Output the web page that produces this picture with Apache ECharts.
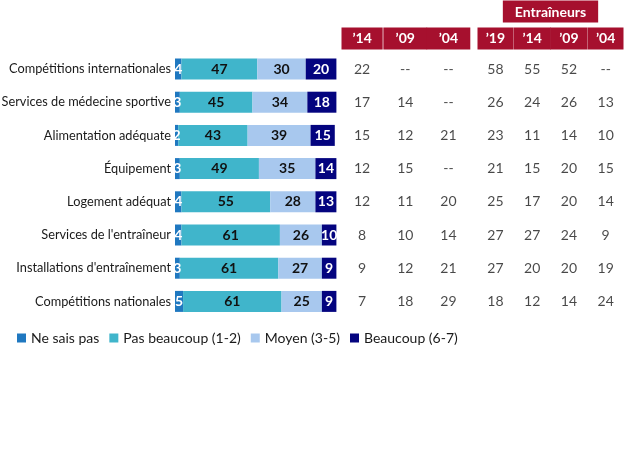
<!DOCTYPE html>
<html><head><meta charset="utf-8">
<script src="https://cdn.jsdelivr.net/npm/echarts@6/dist/echarts.min.js"></script>
<style>html,body{margin:0;padding:0;background:#fff}#c{width:624px;height:468px}</style>
</head><body><div id="c"></div>
<script>
const categories = ["Compétitions internationales","Services de médecine sportive","Alimentation adéquate","Équipement","Logement adéquat","Services de l'entraîneur","Installations d'entraînement","Compétitions nationales"];
const neSaisPas = [4,3,2,3,4,4,3,5];
const pasBeaucoup = [47,45,43,49,55,61,61,61];
const moyen = [30,34,39,35,28,26,27,25];
const beaucoup = [20,18,15,14,13,10,9,9];
const seriesNames = ["Ne sais pas","Pas beaucoup (1-2)","Moyen (3-5)","Beaucoup (6-7)"];
const athleteCols = ["’14","’09","’04"];
const athlete14 = [22,17,15,12,12,8,9,7];
const athlete09 = [null,14,12,15,11,10,12,18];
const athlete04 = [null,null,21,null,20,14,21,29];
const coachCols = ["’19","’14","’09","’04"];
const coach19 = [58,26,23,21,25,27,27,18];
const coach14 = [55,24,11,15,17,27,20,12];
const coach09 = [52,26,14,20,20,24,20,14];
const coach04 = [null,13,10,15,14,9,19,24];
const coachTitle = "Entraîneurs";

const colors = ['#1f78c0','#40b5cb','#a8c8ee','#04047f'];
const labelColors = ['#ffffff','#111111','#111111','#ffffff'];
const red = '#a6102e';
const font = 'Lato, "Open Sans", sans-serif';
const rowTop = 52.4, rowBottom = 468-318;

const chart = echarts.init(document.getElementById('c'));
const barVals = [neSaisPas,pasBeaucoup,moyen,beaucoup];
const series = barVals.map((arr,k)=>({
  name: seriesNames[k], type:'bar', stack:'s', xAxisIndex:0, yAxisIndex:0,
  barWidth:21, data:arr, itemStyle:{color:colors[k]},
  label:{show:true, position:'inside', color:labelColors[k], fontFamily:font, fontWeight:'bold', fontSize:14, formatter:'{c}'}
}));
function tableSeries(cols, arrs, gi){
  return arrs.map((arr,j)=>({
    type:'scatter', xAxisIndex:gi, yAxisIndex:gi, symbolSize:1, itemStyle:{color:'rgba(0,0,0,0)'},
    silent:true,
    data: arr.map((v,i)=>({value:[cols[j], categories[i]], raw:v})),
    label:{show:true, position:'inside', color:'#1a1a1a', fontFamily:font, fontSize:14,
      formatter:p=> p.data.raw==null ? '--' : String(p.data.raw)}
  }));
}
// header boxes: narrow = separated box, full = touching neighbour box
const headerLabel = (colW, kinds) => {
  const st = w => ({color:'#fff', fontFamily:font, fontWeight:'bold', fontSize:14,
    backgroundColor:red, width:w, height:22, lineHeight:22, align:'center'});
  return {interval:0, margin:3, align:'center',
    formatter:(v,i)=>'{'+kinds[i]+'|'+v+'}',
    rich:{n:st(colW-2), f:st(colW+0.6), l:st(colW-1), r:st(colW-1)}};
};
const gA = {left:340.5, width:129.5}, gB = {left:477, width:147};
const gridBase = {top:rowTop, bottom:rowBottom, outerBoundsMode:'none', containLabel:false};
const option = {
  animation:false,
  grid:[
    Object.assign({left:175, width:161.4}, gridBase),
    Object.assign({left:gA.left, width:gA.width}, gridBase),
    Object.assign({left:gB.left, width:gB.width}, gridBase)
  ],
  xAxis:[
    {gridIndex:0, type:'value', min:0, max:100, show:false},
    {gridIndex:1, type:'category', data:athleteCols, position:'top',
      axisLine:{show:false}, axisTick:{show:false}, splitLine:{show:false},
      axisLabel:headerLabel(gA.width/3, ['n','f','f'])},
    {gridIndex:2, type:'category', data:coachCols, position:'top',
      axisLine:{show:false}, axisTick:{show:false}, splitLine:{show:false},
      axisLabel:headerLabel(gB.width/4, ['l','f','f','r']),
      name:coachTitle, nameLocation:'middle', nameGap:28.5,
      nameTextStyle:{color:'#fff', fontFamily:font, fontWeight:'bold', fontSize:14, backgroundColor:red,
        padding:[4,12,3,12], lineHeight:15}}
  ],
  yAxis:[
    {gridIndex:0, type:'category', data:categories, inverse:true,
      axisLine:{show:false}, axisTick:{show:false},
      axisLabel:{color:'#1a1a1a', fontFamily:font, fontSize:12.75, margin:4}},
    {gridIndex:1, type:'category', data:categories, inverse:true, show:false},
    {gridIndex:2, type:'category', data:categories, inverse:true, show:false}
  ],
  legend:{data:seriesNames, left:12, top:326, icon:'rect', itemWidth:9, itemHeight:9, itemGap:10,
    textStyle:{color:'#1a1a1a', fontFamily:font, fontSize:14}},
  series: series.concat(tableSeries(athleteCols,[athlete14,athlete09,athlete04],1))
                .concat(tableSeries(coachCols,[coach19,coach14,coach09,coach04],2))
};
chart.setOption(option);
</script></body></html>
